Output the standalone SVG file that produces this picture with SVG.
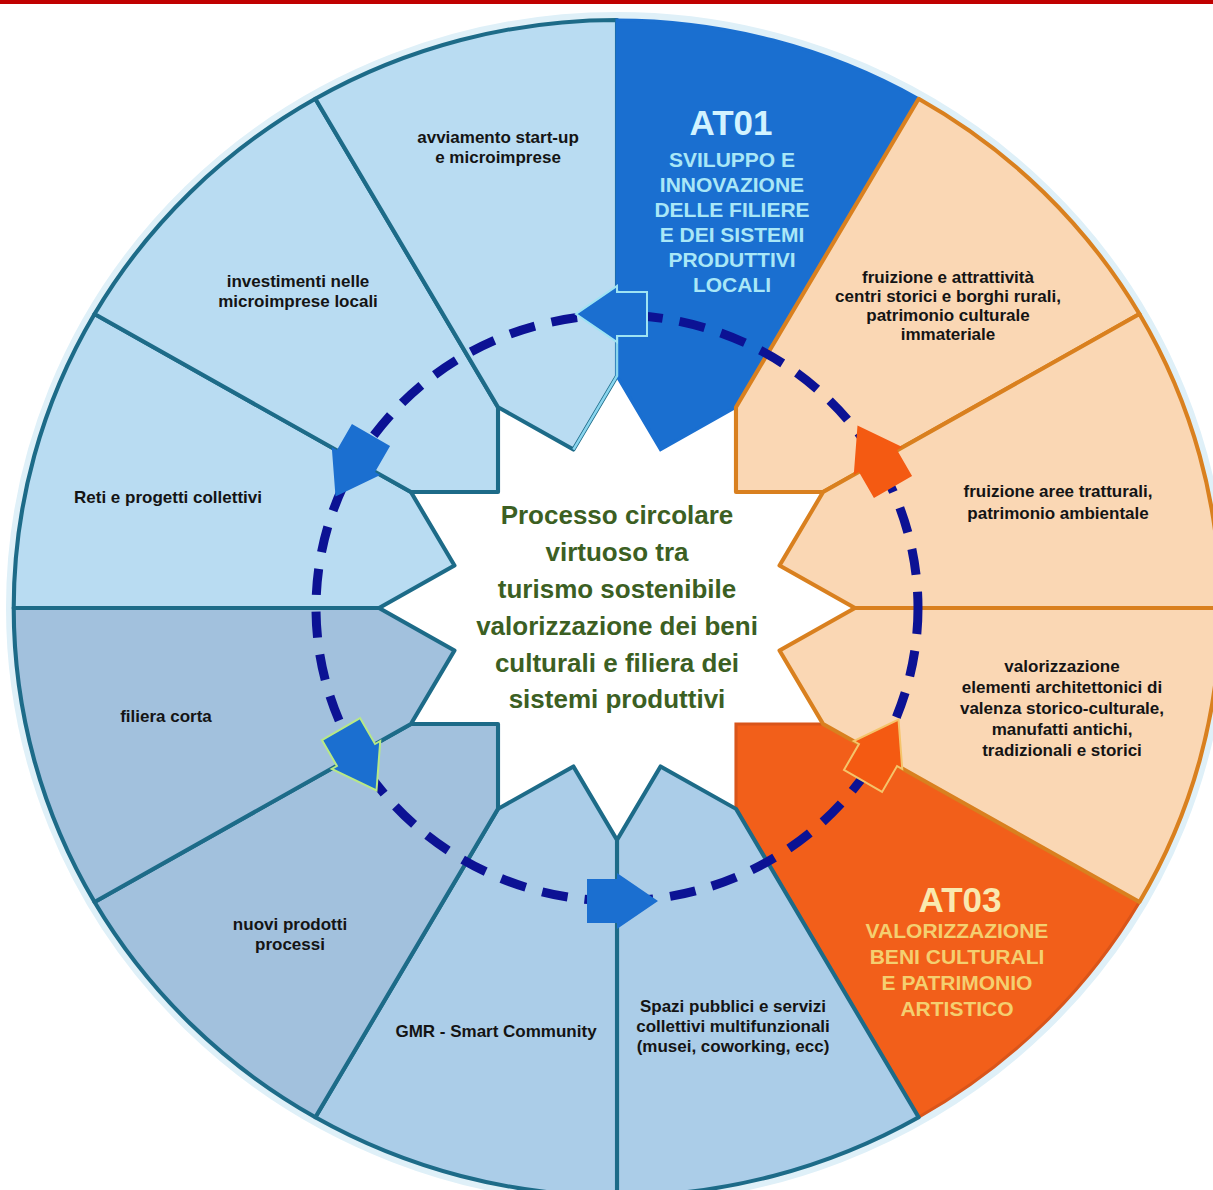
<svg xmlns="http://www.w3.org/2000/svg" width="1213" height="1190" viewBox="0 0 1213 1190">
<defs>
<path id="sec" d="M-152.19,-567.96 A588,588 0 0 1 152.19,-567.96 L60.03,-224.03 L0,-164 L-60.03,-224.03 Z"/>
<polygon id="arr" points="-30,-22 0,-22 0,-28 41,0 0,28 0,22 -30,22"/>
<style>
.lb{font-family:"Liberation Sans",Arial,sans-serif;font-weight:bold;font-size:17px;fill:#141414;text-anchor:middle}
.blue{stroke:#1d6b88;stroke-width:4;stroke-linejoin:round}
.b1{fill:#b9dcf2}
.b2{fill:#a2c1dd}
.b3{fill:#abcde8}
.peach{fill:#fad7b4;stroke:#d9801f;stroke-width:4;stroke-linejoin:round}
.at01{fill:#1a6fd0;stroke:#1a6fd0;stroke-width:3}
.at03{fill:#f25f1a;stroke:#d9551a;stroke-width:3}
.t1{font-family:"Liberation Sans",Arial,sans-serif;font-weight:bold;font-size:35px;fill:#d2f3ff;text-anchor:middle}
.s1{font-family:"Liberation Sans",Arial,sans-serif;font-weight:bold;font-size:21px;fill:#a9e7f7;text-anchor:middle}
.t3{font-family:"Liberation Sans",Arial,sans-serif;font-weight:bold;font-size:35px;fill:#f9e9b0;text-anchor:middle}
.s3{font-family:"Liberation Sans",Arial,sans-serif;font-weight:bold;font-size:21px;fill:#f4cf70;text-anchor:middle}
.ctr{font-family:"Liberation Sans",Arial,sans-serif;font-weight:bold;font-size:26px;fill:#3c5f23;text-anchor:middle}
.ab{fill:#1b6fd0}
.ao{fill:#f45a12}
</style>
</defs>
<rect x="0" y="0" width="1213" height="4" fill="#c00000"/>
<ellipse cx="617" cy="608" rx="607" ry="592" fill="none" stroke="#dff0f8" stroke-width="8"/>

<g id="n-at03">
<use href="#sec" class="at03" transform="translate(617 608) scale(1.026 1) rotate(135)"/>
<text class="t3" x="960" y="912">AT03</text>
<text class="s3" x="957" y="938">VALORIZZAZIONE</text>
<text class="s3" x="957" y="964">BENI CULTURALI</text>
<text class="s3" x="957" y="990">E PATRIMONIO</text>
<text class="s3" x="957" y="1016">ARTISTICO</text>
</g>
<g id="n-spazi">
<use href="#sec" class="blue b3" transform="translate(617 608) scale(1.026 1) rotate(165)"/>
<text class="lb" x="733" y="1012">Spazi pubblici e servizi</text>
<text class="lb" x="733" y="1032">collettivi multifunzionali</text>
<text class="lb" x="733" y="1052">(musei, coworking, ecc)</text>
</g>
<g id="n-gmr">
<use href="#sec" class="blue b3" transform="translate(617 608) scale(1.026 1) rotate(195)"/>
<text class="lb" x="496" y="1037">GMR - Smart Community</text>
</g>
<g id="n-nuovi">
<use href="#sec" class="blue b2" transform="translate(617 608) scale(1.026 1) rotate(225)"/>
<text class="lb" x="290" y="930">nuovi prodotti</text>
<text class="lb" x="290" y="950">processi</text>
</g>
<g id="n-filiera">
<use href="#sec" class="blue b2" transform="translate(617 608) scale(1.026 1) rotate(255)"/>
<text class="lb" x="166" y="722">filiera corta</text>
</g>
<g id="n-reti">
<use href="#sec" class="blue b1" transform="translate(617 608) scale(1.026 1) rotate(285)"/>
<text class="lb" x="168" y="503">Reti e progetti collettivi</text>
</g>
<g id="n-investimenti">
<use href="#sec" class="blue b1" transform="translate(617 608) scale(1.026 1) rotate(315)"/>
<text class="lb" x="298" y="287">investimenti nelle</text>
<text class="lb" x="298" y="307">microimprese locali</text>
</g>
<g id="n-avviamento">
<use href="#sec" class="blue b1" transform="translate(617 608) scale(1.026 1) rotate(345)"/>
<text class="lb" x="498" y="143">avviamento start-up</text>
<text class="lb" x="498" y="163">e microimprese</text>
</g>
<g id="n-at01">
<use href="#sec" class="at01" transform="translate(617 608) scale(1.026 1) rotate(15)"/>
<polyline points="617,290 617,376 573.4,449.6" fill="none" stroke="#8ad6ef" stroke-width="2.5"/>
<text class="t1" x="731" y="135">AT01</text>
<text class="s1" x="732" y="167">SVILUPPO E</text>
<text class="s1" x="732" y="192">INNOVAZIONE</text>
<text class="s1" x="732" y="217">DELLE FILIERE</text>
<text class="s1" x="732" y="242">E DEI SISTEMI</text>
<text class="s1" x="732" y="267">PRODUTTIVI</text>
<text class="s1" x="732" y="292">LOCALI</text>
</g>
<g id="n-fruizione-centri">
<use href="#sec" class="peach" transform="translate(617 608) scale(1.026 1) rotate(45)"/>
<text class="lb" x="948" y="283">fruizione e attrattività</text>
<text class="lb" x="948" y="302">centri storici e borghi rurali,</text>
<text class="lb" x="948" y="321">patrimonio culturale</text>
<text class="lb" x="948" y="340">immateriale</text>
</g>
<g id="n-fruizione-aree">
<use href="#sec" class="peach" transform="translate(617 608) scale(1.026 1) rotate(75)"/>
<text class="lb" x="1058" y="497">fruizione aree tratturali,</text>
<text class="lb" x="1058" y="519">patrimonio ambientale</text>
</g>
<g id="n-valorizzazione-elementi">
<use href="#sec" class="peach" transform="translate(617 608) scale(1.026 1) rotate(105)"/>
<text class="lb" x="1062" y="672">valorizzazione</text>
<text class="lb" x="1062" y="693">elementi architettonici di</text>
<text class="lb" x="1062" y="714">valenza storico-culturale,</text>
<text class="lb" x="1062" y="735">manufatti antichi,</text>
<text class="lb" x="1062" y="756">tradizionali e storici</text>
</g>

<g id="connectors">
<ellipse cx="617" cy="608" rx="301" ry="293" fill="none" stroke="#0c1294" stroke-width="9" stroke-dasharray="26 17"/>
<use href="#arr" class="ab" transform="translate(617 314) rotate(180)" stroke="#9ee3f3" stroke-width="2"/>
<use href="#arr" class="ab" transform="translate(356 461) rotate(120)"/>
<use href="#arr" class="ab" transform="translate(356 755) rotate(60)" stroke="#b8e986" stroke-width="2"/>
<use href="#arr" class="ab" transform="translate(617 901) rotate(0)"/>
<use href="#arr" class="ao" transform="translate(878 755) rotate(300)" stroke="#f5c46a" stroke-width="2"/>
<use href="#arr" class="ao" transform="translate(878 461) rotate(240)"/>
</g>

<g id="center">
<text class="ctr" x="617" y="524">Processo circolare</text>
<text class="ctr" x="617" y="561">virtuoso tra</text>
<text class="ctr" x="617" y="598">turismo sostenibile</text>
<text class="ctr" x="617" y="635">valorizzazione dei beni</text>
<text class="ctr" x="617" y="672">culturali e filiera dei</text>
<text class="ctr" x="617" y="708">sistemi produttivi</text>
</g>
</svg>
